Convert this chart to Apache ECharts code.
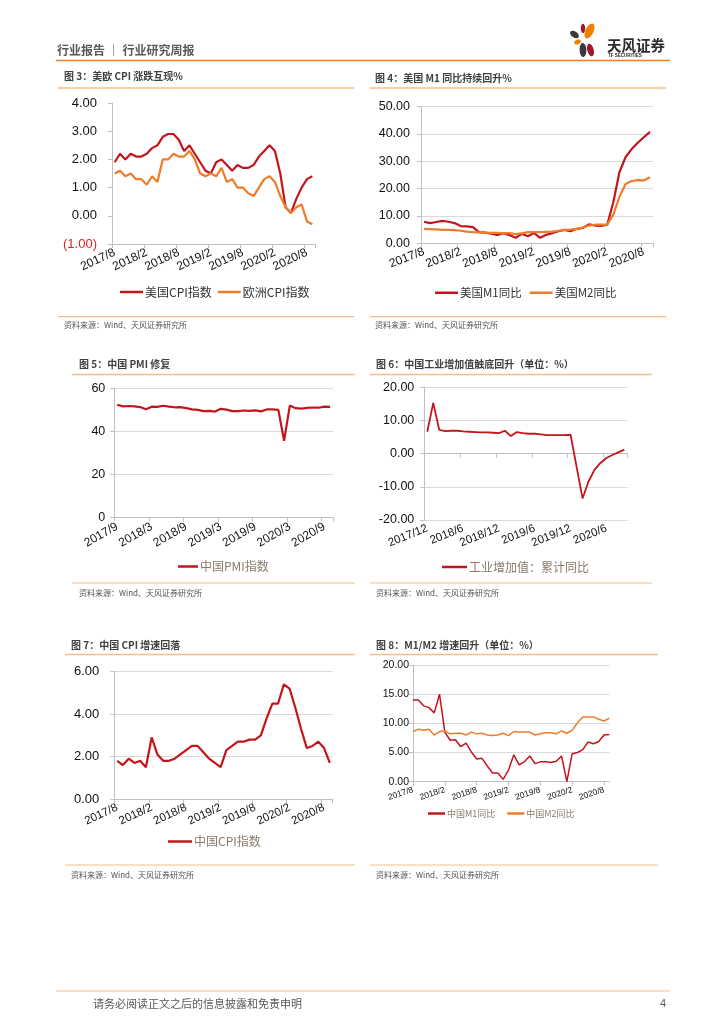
<!DOCTYPE html>
<html><head><meta charset="utf-8">
<script src="https://cdn.jsdelivr.net/npm/echarts@6/dist/echarts.min.js"></script>
<style>html,body{margin:0;padding:0;background:#fff}#c{width:724px;height:1024px}</style>
</head><body><div id="c"></div><script>
function months(y, m, n){ var a=[]; for(var i=0;i<n;i++){ a.push(y+'/'+m); m++; if(m>12){m=1;y++;} } return a; }
// categories
var catUS = months(2017, 8, 38);    // 2017/8 .. 2020/9
var catPMI = months(2017, 9, 38);   // 2017/9 .. 2020/10
var catIVA = months(2017, 12, 34);  // 2017/12 .. 2020/9
var catCN = months(2017, 8, 38);    // 2017/8 .. 2020/9
// 图3
var usCPI = [1.9,2.2,2.0,2.2,2.1,2.1,2.2,2.4,2.5,2.8,2.9,2.9,2.7,2.3,2.5,2.2,1.9,1.6,1.5,1.9,2.0,1.8,1.6,1.8,1.7,1.7,1.8,2.1,2.3,2.5,2.3,1.5,0.3,0.1,0.6,1.0,1.3,1.4];
var euCPI = [1.5,1.6,1.4,1.5,1.3,1.3,1.1,1.4,1.2,2.0,2.0,2.2,2.1,2.1,2.3,2.0,1.5,1.4,1.5,1.4,1.7,1.2,1.3,1.0,1.0,0.8,0.7,1.0,1.3,1.4,1.2,0.7,0.3,0.1,0.3,0.4,-0.2,-0.3];
// 图4
var usM1 = [7.9,7.4,7.8,8.2,7.9,7.4,6.3,6.2,5.9,4.1,3.9,3.5,3.1,3.7,3.0,2.0,3.5,2.6,3.8,2.0,3.1,3.7,4.4,4.9,4.4,5.3,5.6,6.9,6.5,6.4,6.8,15.0,26.0,31.5,34.5,36.8,38.8,40.8];
var usM2 = [5.3,5.2,5.1,4.9,4.9,4.8,4.6,4.3,4.1,4.0,3.9,3.8,3.8,3.7,3.7,3.4,3.6,4.1,4.1,4.1,4.2,4.3,4.6,4.9,5.0,5.3,5.8,6.5,6.8,6.8,6.8,10.5,17.0,21.7,22.8,23.1,23.0,24.2];
// 图5
var cnPMI = [52.4,51.6,51.8,51.6,51.3,50.3,51.5,51.4,51.9,51.5,51.2,51.3,50.8,50.2,50.0,49.4,49.5,49.2,50.5,50.1,49.4,49.4,49.7,49.5,49.8,49.3,50.2,50.2,50.0,35.7,52.0,50.8,50.6,50.9,51.1,51.0,51.5,51.4];
// 图6
var cnIVA = [6.6,15.3,7.2,6.8,6.9,6.9,6.7,6.6,6.5,6.4,6.4,6.3,6.2,6.9,5.3,6.5,6.2,6.0,6.0,5.8,5.6,5.6,5.6,5.6,5.7,null,-13.5,-8.4,-4.9,-2.8,-1.3,-0.4,0.4,1.2];
// 图7
var cnCPI = [1.8,1.6,1.9,1.7,1.8,1.5,2.9,2.1,1.8,1.8,1.9,2.1,2.3,2.5,2.5,2.2,1.9,1.7,1.5,2.3,2.5,2.7,2.7,2.8,2.8,3.0,3.8,4.5,4.5,5.4,5.2,4.3,3.3,2.4,2.5,2.7,2.4,1.7];
// 图8
var cnM1 = [14.0,14.0,13.0,12.7,11.8,15.0,8.5,7.1,7.2,6.0,6.6,5.1,3.9,4.0,2.7,1.5,1.5,0.4,2.0,4.6,2.9,3.4,4.4,3.1,3.4,3.4,3.3,3.5,4.4,0.0,4.8,5.0,5.5,6.8,6.5,6.9,8.0,8.1];
var cnM2 = [8.6,9.0,8.8,9.0,8.0,8.6,8.7,8.2,8.3,8.3,8.0,8.5,8.2,8.3,8.0,7.9,8.0,8.3,7.9,8.6,8.5,8.5,8.5,8.0,8.2,8.4,8.4,8.2,8.7,8.3,8.8,10.1,11.1,11.1,11.1,10.7,10.4,10.9];

var RED = '#C3161C', ORG = '#EE7D2B', LORG = '#F6BE86', AX = '#BFBFBF', GRID = '#D9D9D9';
var EN = '"Liberation Sans", Arial, "Noto Sans CJK SC", sans-serif';
var CJK = '"Noto Sans CJK SC", "Liberation Sans", sans-serif';

function xAx(gi, data, rot, fs, bg, extra){
  var o = {gridIndex: gi, type: 'category', data: data, boundaryGap: bg,
    axisLine: {lineStyle: {color: AX, width: 1}},
    axisTick: {show: true, interval: 5, length: 4, lineStyle: {color: AX}},
    axisLabel: {interval: 5, rotate: rot, fontSize: fs, color: '#111', fontFamily: EN, margin: 8},
    splitLine: {show: false}};
  if (extra) for (var k in extra) o[k] = extra[k];
  return o;
}
function yAx(gi, min, max, iv, fs, fmt, split, margin, rich){
  var o = {gridIndex: gi, type: 'value', min: min, max: max, interval: iv,
    axisLine: {show: true, lineStyle: {color: AX}},
    axisTick: {show: true, length: 4, lineStyle: {color: AX}},
    axisLabel: {fontSize: fs, color: '#111', fontFamily: EN, margin: margin, formatter: fmt},
    splitLine: {show: split, lineStyle: {color: GRID, width: 1}}};
  if (rich) o.axisLabel.rich = rich;
  return o;
}
function f2(v){ return v.toFixed(2); }
function paren(v){ return v < 0 ? '{n|(' + Math.abs(v).toFixed(2) + ')}' : v.toFixed(2); }
function line(name, xi, data, color, w){
  return {name: name, type: 'line', xAxisIndex: xi, yAxisIndex: xi, data: data, symbol: 'none',
    connectNulls: true, lineStyle: {color: color, width: w}, itemStyle: {color: color}, z: 3};
}
function txt(x, y, s, font, fill, align){
  return {type: 'text', x: x, y: y, silent: true,
    style: {text: s, font: font, fill: fill, textAlign: align || 'left', textVerticalAlign: 'middle', verticalAlign: 'middle'}};
}
function hl(x1, x2, y, color, w){
  return {type: 'line', silent: true, shape: {x1: x1, y1: y, x2: x2, y2: y}, style: {stroke: color, lineWidth: w}};
}
function ell(cx, cy, rx, ry, rot, color){
  return {type: 'ellipse', x: cx, y: cy, rotation: rot, silent: true, shape: {cx: 0, cy: 0, rx: rx, ry: ry}, style: {fill: color}};
}
var TF = 'bold 10px ' + CJK, SF = '8px ' + CJK, SRC = '资料来源：Wind、天风证券研究所';

var graphics = [
  txt(57, 50, '行业报告 ｜ 行业研究周报', 'bold 12px ' + CJK, '#595959'),
  hl(56, 670, 60.5, '#EE7D2B', 1.5),
  ell(583, 28.5, 2.2, 4.7, 0, '#A3162E'),
  ell(589.5, 31, 4, 8, -0.45, '#EE8200'),
  ell(574.5, 34.5, 5, 3, -0.6, '#3A3A3A'),
  ell(577.5, 42, 3.5, 2.4, 0.4, '#EE8200'),
  ell(583, 50, 3.4, 7, 0.05, '#3A3A3A'),
  ell(590.5, 50, 3.2, 6.5, 0.25, '#A3162E'),
  txt(607, 45, '天风证券', 'bold 14.5px ' + CJK, '#2B2B2B'),
  txt(608, 55.5, 'TF SECURITIES', 'bold 4.5px ' + EN, '#2B2B2B'),
  // 图3
  txt(64, 76, '图 3：美欧 CPI 涨跌互现%', TF, '#404040'),
  hl(58, 354, 88, LORG, 1.5), hl(58, 354, 316.7, LORG, 1.2),
  txt(64, 325, SRC, SF, '#555'),
  // 图4
  txt(375, 78, '图 4：美国 M1 同比持续回升%', TF, '#404040'),
  hl(370, 666, 88, LORG, 1.5), hl(370, 666, 316.7, LORG, 1.2),
  txt(375, 325, SRC, SF, '#555'),
  // 图5
  txt(79, 364.5, '图 5：中国 PMI 修复', TF, '#404040'),
  hl(72, 355, 374.5, LORG, 1.5), hl(72, 355, 583, LORG, 1.2),
  txt(79, 593, SRC, SF, '#555'),
  // 图6
  txt(376, 364.5, '图 6：中国工业增加值触底回升（单位：%）', TF, '#404040'),
  hl(370, 652, 374.5, LORG, 1.5), hl(370, 652, 583, LORG, 1.2),
  txt(376, 593, SRC, SF, '#555'),
  // 图7
  txt(71, 645, '图 7：中国 CPI 增速回落', TF, '#404040'),
  hl(65, 355, 654.5, LORG, 1.5), hl(65, 355, 865, LORG, 1.2),
  txt(71, 875, SRC, SF, '#555'),
  // 图8
  txt(376, 645, '图 8：M1/M2 增速回升（单位：%）', TF, '#404040'),
  hl(370, 658, 654.5, LORG, 1.5), hl(370, 658, 865, LORG, 1.2),
  txt(376, 875, SRC, SF, '#555'),
  // footer
  hl(56, 670, 991, LORG, 1.2),
  txt(93, 1004, '请务必阅读正文之后的信息披露和免责申明', '11px ' + CJK, '#595959'),
  txt(666, 1004, '4', '11px ' + EN, '#595959', 'right')
];

function leg(left, top, names, fs, color, iw, gap){
  return {left: left, top: top, data: names, icon: 'rect', itemWidth: iw, itemHeight: 2.5, itemGap: gap,
    padding: 0, selectedMode: false, textStyle: {fontSize: fs, color: color, fontFamily: CJK, padding: [0,0,0,-3]}};
}

var option = {
  animation: false,
  backgroundColor: '#fff',
  grid: [
    {left: 112, top: 103, width: 203, height: 141},
    {left: 421, top: 106.7, width: 232, height: 136.6},
    {left: 114.3, top: 388.3, width: 218.7, height: 129.4},
    {left: 424.3, top: 387.3, width: 203, height: 132.7},
    {left: 114.3, top: 671.7, width: 218.4, height: 127.3},
    {left: 413, top: 665, width: 196.3, height: 116.7}
  ],
  xAxis: [
    xAx(0, catUS, 25, 12, true, {axisLine: {onZero: false, lineStyle: {color: AX}}}),
    xAx(1, catUS, 21, 12, true),
    xAx(2, catPMI, 30, 12, true),
    xAx(3, catIVA, 22, 11.5, true),
    xAx(4, catCN, 25, 11.5, true),
    xAx(5, catCN, 18, 8.5, false)
  ],
  yAxis: [
    yAx(0, -1, 4, 1, 13, paren, false, 15, {n: {color: '#E02020', fontSize: 13, fontFamily: EN}}),
    yAx(1, 0, 50, 10, 12.5, f2, true, 11),
    yAx(2, 0, 60, 20, 12.5, function(v){ return String(v); }, true, 9),
    yAx(3, -20, 20, 10, 12.5, f2, true, 10),
    yAx(4, 0, 6, 2, 13, f2, true, 15),
    yAx(5, 0, 20, 5, 10.5, f2, true, 4)
  ],
  legend: [
    leg(120, 286, ['美国CPI指数', '欧洲CPI指数'], 12, '#333', 23, 6),
    leg(435, 287, ['美国M1同比', '美国M2同比'], 11.5, '#333', 23, 8),
    leg(178, 560.5, ['中国PMI指数'], 12, '#8A7A6A', 20, 10),
    leg(442, 561, ['工业增加值：累计同比'], 12, '#8A7A6A', 25, 10),
    leg(168, 835.5, ['中国CPI指数'], 12, '#8A7A6A', 24, 10),
    leg(428, 809, ['中国M1同比', '中国M2同比'], 9, '#8A7A6A', 17, 12)
  ],
  series: [
    line('美国CPI指数', 0, usCPI, RED, 2.2),
    line('欧洲CPI指数', 0, euCPI, ORG, 2.2),
    line('美国M1同比', 1, usM1, RED, 2.2),
    line('美国M2同比', 1, usM2, ORG, 2.2),
    line('中国PMI指数', 2, cnPMI, RED, 2.2),
    line('工业增加值：累计同比', 3, cnIVA, RED, 1.8),
    line('中国CPI指数', 4, cnCPI, RED, 2.2),
    line('中国M1同比', 5, cnM1, RED, 1.5),
    line('中国M2同比', 5, cnM2, ORG, 1.5)
  ],
  graphic: graphics
};
var chart = echarts.init(document.getElementById('c'), null, {renderer: 'canvas'});
chart.setOption(option);
</script></body></html>
